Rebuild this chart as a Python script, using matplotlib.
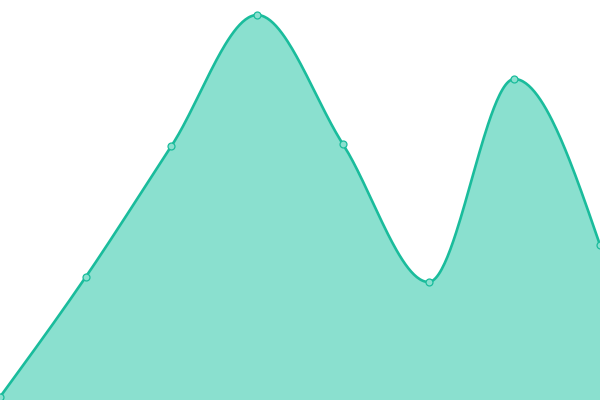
import numpy as np
import matplotlib
matplotlib.use("Agg")
import matplotlib.pyplot as plt

# values (bottom of the figure = 0, top = 400)
x_idx = [0, 1, 2, 3, 4, 5, 6, 7]
values = [3, 123, 254, 385, 256, 118, 321, 155]

LINE = "#1abc9c"
FILL = "#8ae0cf"


def monotone_x(xs, ys, n=60):
    """Monotone cubic interpolation, same rule as d3.curveMonotoneX."""
    xs = np.asarray(xs, float)
    ys = np.asarray(ys, float)
    h = np.diff(xs)
    s = np.diff(ys) / h
    t = np.zeros_like(ys)
    for i in range(1, len(ys) - 1):
        p = (s[i - 1] * h[i] + s[i] * h[i - 1]) / (h[i - 1] + h[i])
        t[i] = (np.sign(s[i - 1]) + np.sign(s[i])) * min(abs(s[i - 1]), abs(s[i]), 0.5 * abs(p))
    t[0] = (3 * s[0] - t[1]) / 2
    t[-1] = (3 * s[-1] - t[-2]) / 2
    out_x, out_y = [], []
    for i in range(len(xs) - 1):
        u = np.linspace(0, 1, n)
        h00 = 2 * u**3 - 3 * u**2 + 1
        h10 = u**3 - 2 * u**2 + u
        h01 = -2 * u**3 + 3 * u**2
        h11 = u**3 - u**2
        yy = h00 * ys[i] + h10 * h[i] * t[i] + h01 * ys[i + 1] + h11 * h[i] * t[i + 1]
        out_x.append(xs[i] + u * h[i])
        out_y.append(yy)
    return np.concatenate(out_x), np.concatenate(out_y)


sx, sy = monotone_x(x_idx, values)

fig = plt.figure(figsize=(6, 4), dpi=100)
ax = fig.add_axes([0, 0, 1, 1])
ax.fill_between(sx, 0, sy, color=FILL, lw=0)
ax.plot(sx, sy, color=LINE, lw=1.9, solid_capstyle="round")
ax.plot(x_idx, values, "o", ms=5, mfc=FILL, mec=LINE, mew=0.9)
ax.set_xlim(0, 7)
ax.set_ylim(0, 400)
ax.axis("off")
fig.savefig("out.png", dpi=100)
